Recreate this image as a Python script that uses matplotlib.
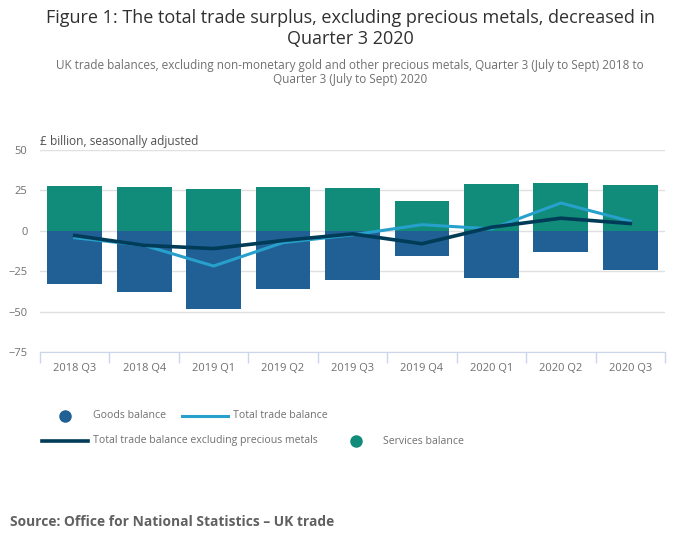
import matplotlib.pyplot as plt
from matplotlib.lines import Line2D
import numpy as np

plt.rcParams['font.family'] = ['Open Sans', 'DejaVu Sans']

quarters = ['2018 Q3', '2018 Q4', '2019 Q1', '2019 Q2', '2019 Q3',
            '2019 Q4', '2020 Q1', '2020 Q2', '2020 Q3']
goods = [-32.7, -37.6, -48.6, -35.8, -30.3, -15.6, -29.1, -13.2, -24.2]
services = [27.6, 27.0, 25.8, 27.0, 26.4, 18.5, 28.8, 29.4, 28.2]
total = [-4.3, -9.0, -21.8, -7.3, -2.5, 3.8, 1.2, 17.2, 5.9]
total_excl = [-2.9, -9.0, -11.0, -6.0, -1.9, -8.0, 2.2, 7.8, 4.5]

c_goods = '#206095'
c_services = '#118c7b'
c_total = '#27a0cc'
c_excl = '#003c57'
grey = '#707070'

W, H = 700, 549
fig = plt.figure(figsize=(W / 100, H / 100), dpi=100)
ax = fig.add_axes([40 / W, (H - 352) / H, 625 / W, 202 / H])

x = np.arange(len(quarters))
ax.bar(x, goods, width=0.79, color=c_goods, zorder=2)
ax.bar(x, services, width=0.79, color=c_services, zorder=2)
ax.plot(x, total, color=c_total, lw=2.2, zorder=3)
ax.plot(x, total_excl, color=c_excl, lw=2.6, zorder=4)

ax.set_xlim(-0.5, len(quarters) - 0.5)
ax.set_ylim(-75, 50)
ax.set_yticks([-75, -50, -25, 0, 25, 50])
ax.yaxis.grid(True, color='#e0e0e0', lw=1, zorder=0)
ax.tick_params(axis='y', length=0, labelsize=8, labelcolor=grey, pad=9)

ax.set_xticks(x)
ax.set_xticklabels(quarters)
ax.tick_params(axis='x', length=0, labelsize=8, labelcolor=grey, pad=8)
ax.set_xticks(np.arange(-0.5, len(quarters)), minor=True)
ax.tick_params(axis='x', which='minor', length=8, color='#ccd6eb', width=1)

for s in ['top', 'right', 'left']:
    ax.spines[s].set_visible(False)
ax.spines['bottom'].set_color('#ccd6eb')

fig.text(40 / W, 1 - 142 / H, '£ billion, seasonally adjusted', fontsize=8.6,
         color='#505050', va='center', ha='left')

fig.text(350 / W, 1 - 18 / H, 'Figure 1: The total trade surplus, excluding precious metals, decreased in',
         fontsize=13, color='#303030', ha='center', va='center')
fig.text(350 / W, 1 - 39 / H, 'Quarter 3 2020',
         fontsize=13, color='#303030', ha='center', va='center')
fig.text(350 / W, 1 - 65 / H,
         'UK trade balances, excluding non-monetary gold and other precious metals, Quarter 3 (July to Sept) 2018 to',
         fontsize=8.5, color=grey, ha='center', va='center')
fig.text(350 / W, 1 - 80 / H, 'Quarter 3 (July to Sept) 2020',
         fontsize=8.5, color=grey, ha='center', va='center')

# legend, drawn by hand to follow the two-row layout
def lx(px):
    return px / W

def ly(py):
    return 1 - py / H

fs_leg = 7.6
fig.add_artist(Line2D([lx(65)], [ly(416)], marker='o', ms=8, color=c_goods, ls='none'))
fig.text(lx(93), ly(416), 'Goods balance', fontsize=fs_leg, color=grey, va='center')
fig.add_artist(Line2D([lx(182), lx(228)], [ly(416), ly(416)], color=c_total, lw=2.2))
fig.text(lx(233), ly(416), 'Total trade balance', fontsize=fs_leg, color=grey, va='center')
fig.add_artist(Line2D([lx(42), lx(88)], [ly(441), ly(441)], color=c_excl, lw=2.6))
fig.text(lx(93), ly(441), 'Total trade balance excluding precious metals', fontsize=fs_leg,
         color=grey, va='center')
fig.add_artist(Line2D([lx(356)], [ly(441)], marker='o', ms=8, color=c_services, ls='none'))
fig.text(lx(383), ly(441), 'Services balance', fontsize=fs_leg, color=grey, va='center')

fig.text(10 / W, 1 - 522 / H, 'Source: Office for National Statistics – UK trade',
         fontsize=9.9, fontweight='bold', color='#606060', va='center')

fig.savefig('out.png', dpi=100)
